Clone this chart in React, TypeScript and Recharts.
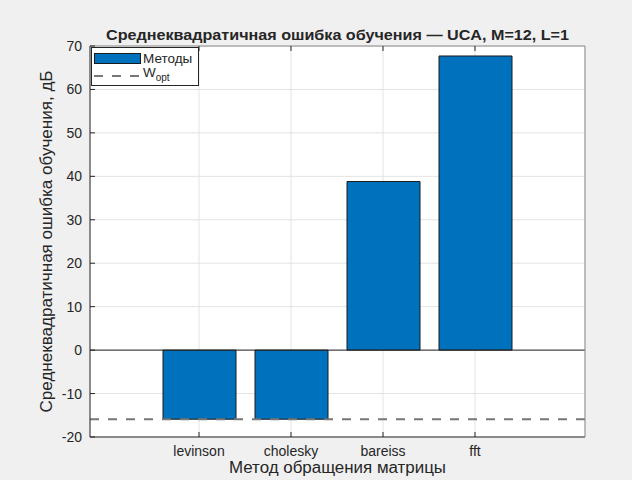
import React from 'react';
import { BarChart, Bar, XAxis, YAxis, CartesianGrid, ReferenceLine, Legend } from 'recharts';

const categories = ['levinson', 'cholesky', 'bareiss', 'fft'];
const errorsDb = [-15.9, -15.9, 38.8, 67.7];
const wOpt = -15.9;
const yTicks = [-20, -10, 0, 10, 20, 30, 40, 50, 60, 70];

const title = 'Среднеквадратичная ошибка обучения — UCA, M=12, L=1';
const xTitle = 'Метод обращения матрицы';
const yTitle = 'Среднеквадратичная ошибка обучения, дБ';

const data = categories.map((c, i) => ({ name: c, value: errorsDb[i] }));

const FONT = '"Liberation Sans", Arial, Helvetica, sans-serif';
const TXT = '#262626';

const LegendBox = () => (
  <div
    style={{
      background: '#fff',
      border: '1px solid #262626',
      width: 106,
      height: 37,
      fontFamily: FONT,
      fontSize: 13.5,
      color: TXT,
      boxSizing: 'content-box',
    }}
  >
    <div style={{ display: 'flex', alignItems: 'center', height: 17, marginTop: 2 }}>
      <div style={{ width: 45, height: 9, background: '#0072BD', border: '1px solid #1a1a1a', marginLeft: 2 }} />
      <span style={{ marginLeft: 2 }}>Методы</span>
    </div>
    <div style={{ display: 'flex', alignItems: 'center', height: 18 }}>
      <svg width={49} height={10} style={{ marginLeft: 2 }}>
        <line x1={0} y1={5} x2={47} y2={5} stroke="#777" strokeWidth={2} strokeDasharray="9 9" />
      </svg>
      <span style={{ marginLeft: 0, position: 'relative', top: -2 }}>
        W<sub style={{ fontSize: 10 }}>opt</sub>
      </span>
    </div>
  </div>
);

export default function App() {
  return (
    <div style={{ position: 'absolute', left: 0, top: 0, width: 632, height: 480, background: '#f0f0f0' }}>
      <BarChart
        width={632}
        height={480}
        data={data}
        margin={{ top: 36, right: 37, bottom: 13, left: 30 }}
        style={{ fontFamily: FONT }}
      >
        <CartesianGrid stroke="#e3e3e3" fill="#ffffff" />
        <XAxis
          dataKey="name"
          type="category"
          height={30}
          padding={{ left: 63, right: 64 }}
          tickSize={-5}
          tickMargin={14}
          tickLine={{ stroke: '#262626' }}
          axisLine={{ stroke: '#262626' }}
          tick={{ fill: TXT, fontSize: 14, fontFamily: FONT }}
          label={{
            content: (p: any) => {
              const vb = p.viewBox || {};
              return (
                <text
                  x={vb.x + vb.width / 2}
                  y={473}
                  textAnchor="middle"
                  fill={TXT}
                  fontSize={16}
                  fontFamily={FONT}
                  textLength={217}
                  lengthAdjust="spacingAndGlyphs"
                >
                  {xTitle}
                </text>
              );
            },
          }}
        />
        <XAxis
          xAxisId="top"
          dataKey="name"
          orientation="top"
          height={10}
          padding={{ left: 63, right: 64 }}
          tickSize={-5}
          tick={{ fill: 'none', fontSize: 1 }}
          tickLine={{ stroke: '#262626' }}
          axisLine={{ stroke: '#8a8a8a' }}
          label={{
            content: (p: any) => {
              const vb = p.viewBox || {};
              return (
                <text
                  x={vb.x + vb.width / 2}
                  y={40}
                  textAnchor="middle"
                  fill={TXT}
                  fontSize={15}
                  fontWeight="bold"
                  fontFamily={FONT}
                  textLength={463}
                  lengthAdjust="spacingAndGlyphs"
                >
                  {title}
                </text>
              );
            },
          }}
        />
        <YAxis
          type="number"
          domain={[-20, 70]}
          ticks={yTicks}
          width={60}
          tickSize={-5}
          tickMargin={13}
          tickLine={{ stroke: '#262626' }}
          axisLine={{ stroke: '#262626' }}
          tick={{ fill: TXT, fontSize: 14, fontFamily: FONT }}
          label={{
            content: (p: any) => {
              const vb = p.viewBox || {};
              const cx = 52;
              const cy = vb.y + vb.height / 2;
              return (
                <text
                  x={cx}
                  y={cy}
                  transform={`rotate(-90 ${cx} ${cy})`}
                  textAnchor="middle"
                  fill={TXT}
                  fontSize={16}
                  fontFamily={FONT}
                  textLength={342}
                  lengthAdjust="spacingAndGlyphs"
                >
                  {yTitle}
                </text>
              );
            },
          }}
        />
        <YAxis
          yAxisId="right"
          orientation="right"
          type="number"
          domain={[-20, 70]}
          ticks={yTicks}
          width={10}
          tickSize={-5}
          tick={{ fill: 'none', fontSize: 1 }}
          tickLine={{ stroke: '#262626' }}
          axisLine={{ stroke: '#8a8a8a' }}
        />
        <ReferenceLine y={0} stroke="#262626" strokeWidth={1} />
        <Bar dataKey="value" fill="#0072BD" stroke="#1a1a1a" strokeWidth={1} barSize={73} isAnimationActive={false} />
        <ReferenceLine y={wOpt} stroke="#777777" strokeWidth={2} strokeDasharray="9 9" />
        <Legend
          layout="vertical"
          align="center"
          verticalAlign="middle"
          content={() => <LegendBox />}
          wrapperStyle={{ position: 'absolute', left: 91, top: 47, width: 'auto', height: 'auto' }}
        />
      </BarChart>
    </div>
  );
}
